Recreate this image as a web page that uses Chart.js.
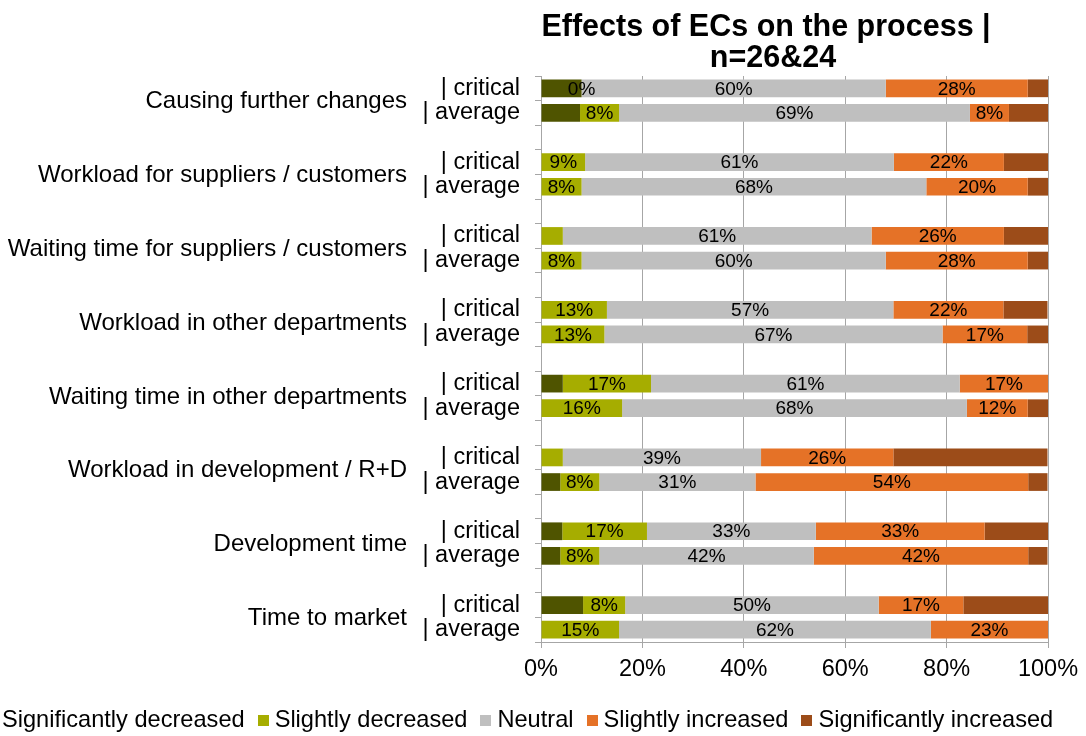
<!DOCTYPE html>
<html>
<head>
<meta charset="utf-8">
<script src="https://cdn.jsdelivr.net/npm/chart.js@4.4.1/dist/chart.umd.min.js"></script>
<style>
    body { margin: 0; background: #fff; font-family: "Liberation Sans", Arial, sans-serif; }
    #contenedor { position: relative; width: 1086px; height: 736px; overflow: hidden; }
    #leyenda { position: absolute; left: -15px; top: 706px; white-space: nowrap; font-size: 23.6px; color: #000; line-height: 27px; }
    .item { display: inline-block; margin-right: 13px; }
    .marca { display: inline-block; width: 11px; height: 11px; margin-right: 6px; vertical-align: 1px; }
</style>
</head>
<body>
<div id="contenedor">
    <canvas id="grafico" width="1086" height="736"></canvas>
    <div id="leyenda"></div>
</div>
<script>
// ------------------------------ Datos ------------------------------
const categorias = [
    "Causing further changes",
    "Workload for suppliers / customers",
    "Waiting time for suppliers / customers",
    "Workload in other departments",
    "Waiting time in other departments",
    "Workload in development / R+D",
    "Development time",
    "Time to market"
];
const filas = ["| critical", "| average"];
const series = ["Significantly decreased", "Slightly decreased", "Neutral", "Slightly increased", "Significantly increased"];
const colores = ["#4f5400", "#a6ad00", "#bfbfbf", "#e57227", "#9c4c19"];

// valores en %, por categoría: critical, average
const sigDecreased = [8, 7.7, 0, 0, 0, 0, 0, 0, 4.3, 0, 0, 3.8, 4.2, 3.8, 8.3, 0];
const sliDecreased = [0, 7.7, 8.7, 8, 4.3, 8, 13, 12.5, 17.4, 16, 4.3, 7.7, 16.7, 7.7, 8.3, 15.4];
const neutral = [60, 69.2, 60.9, 68, 60.9, 60, 56.5, 66.7, 60.9, 68, 39.1, 30.8, 33.3, 42.3, 50, 61.5];
const sliIncreased = [28, 7.7, 21.7, 20, 26.1, 28, 21.7, 16.7, 17.4, 12, 26.1, 53.8, 33.3, 42.3, 16.7, 23.1];
const sigIncreased = [4, 7.7, 8.7, 4, 8.7, 4, 8.7, 4.1, 0, 4, 30.4, 3.8, 12.5, 3.8, 16.7, 0];
const ticksX = [0, 20, 40, 60, 80, 100];

// Filas del eje con un hueco entre cada categoría
const etiquetas = [];
categorias.forEach((c, i) => {
    etiquetas.push(filas[0], filas[1]);
    if (i < categorias.length - 1) etiquetas.push("");
});

function conHuecos(valores) {
    const res = [];
    for (let i = 0; i < categorias.length; i++) {
        res.push(valores[i * 2], valores[i * 2 + 1]);
        if (i < categorias.length - 1) res.push(null);
    }
    return res;
}

const todosValores = [sigDecreased, sliDecreased, neutral, sliIncreased, sigIncreased];
const fuente = "'Liberation Sans', Arial, sans-serif";

// ------------------------------ Plugins ------------------------------
const tituloPlugin = {
    id: "tituloManual",
    afterDraw(chart) {
        const ctx = chart.ctx;
        ctx.save();
        ctx.fillStyle = "#000";
        ctx.font = "bold 30.5px " + fuente;
        ctx.textAlign = "center";
        ctx.textBaseline = "middle";
        ctx.fillText("Effects of ECs on the process |", 766, 28);
        ctx.fillText("n=26&24", 773, 59);
        ctx.restore();
    }
};

const gruposPlugin = {
    id: "grupos",
    afterDraw(chart) {
        const ctx = chart.ctx;
        const y = chart.scales.y;
        ctx.save();
        ctx.fillStyle = "#000";
        ctx.font = "24px " + fuente;
        ctx.textAlign = "right";
        ctx.textBaseline = "middle";
        categorias.forEach((c, i) => {
            const yy = (y.getPixelForValue(i * 3) + y.getPixelForValue(i * 3 + 1)) / 2;
            ctx.fillText(c, 407, yy + 1);
        });
        ctx.restore();
    }
};

const etiquetasPlugin = {
    id: "etiquetasDatos",
    afterDatasetsDraw(chart) {
        const ctx = chart.ctx;
        ctx.save();
        ctx.fillStyle = "#000";
        ctx.font = "19px " + fuente;
        ctx.textAlign = "center";
        ctx.textBaseline = "middle";
        [1, 2, 3].forEach(d => {
            const meta = chart.getDatasetMeta(d);
            meta.data.forEach((el, i) => {
                const v = chart.data.datasets[d].data[i];
                if (v === null || v === undefined) return;
                if (v !== 0 && v < 5) return;
                ctx.fillText(Math.round(v) + "%", (el.x + el.base) / 2, el.y + 1);
            });
        });
        ctx.restore();
    }
};

// ------------------------------ Gráfico ------------------------------
const ctx = document.getElementById("grafico").getContext("2d");

new Chart(ctx, {
    type: "bar",
    data: {
        labels: etiquetas,
        datasets: series.map((s, i) => ({
            label: s,
            data: conHuecos(todosValores[i]),
            backgroundColor: colores[i],
            borderWidth: 0,
            barPercentage: 0.72,
            categoryPercentage: 1
        }))
    },
    options: {
        indexAxis: "y",
        responsive: false,
        animation: false,
        layout: { padding: { top: 76, right: 38, bottom: 54, left: 0 } },
        plugins: {
            legend: { display: false },
            tooltip: { enabled: false },
            title: { display: false }
        },
        scales: {
            x: {
                stacked: true,
                min: 0,
                max: 100,
                afterBuildTicks: (scale) => { scale.ticks = ticksX.map(v => ({ value: v })); },
                ticks: {
                    callback: (v) => v + "%",
                    color: "#000",
                    font: { family: fuente, size: 23.5 },
                    padding: 7,
                    maxRotation: 0
                },
                grid: { color: "#a6a6a6", tickLength: 6 },
                border: { color: "#a6a6a6" },
                afterFit: (scale) => { scale.height = 40; }
            },
            y: {
                stacked: true,
                ticks: {
                    color: "#000",
                    font: { family: fuente, size: 23.5 },
                    padding: 15,
                    autoSkip: false
                },
                grid: { drawOnChartArea: false, color: "#a6a6a6", tickLength: 6, offset: true },
                border: { color: "#a6a6a6" },
                afterFit: (scale) => { scale.width = 541; }
            }
        }
    },
    plugins: [tituloPlugin, gruposPlugin, etiquetasPlugin]
});

// ------------------------------ Leyenda ------------------------------
const leyenda = document.getElementById("leyenda");
series.forEach((s, i) => {
    const item = document.createElement("span");
    item.className = "item";
    const marca = document.createElement("span");
    marca.className = "marca";
    marca.style.background = colores[i];
    item.appendChild(marca);
    item.appendChild(document.createTextNode(s));
    leyenda.appendChild(item);
});
</script>
</body>
</html>
